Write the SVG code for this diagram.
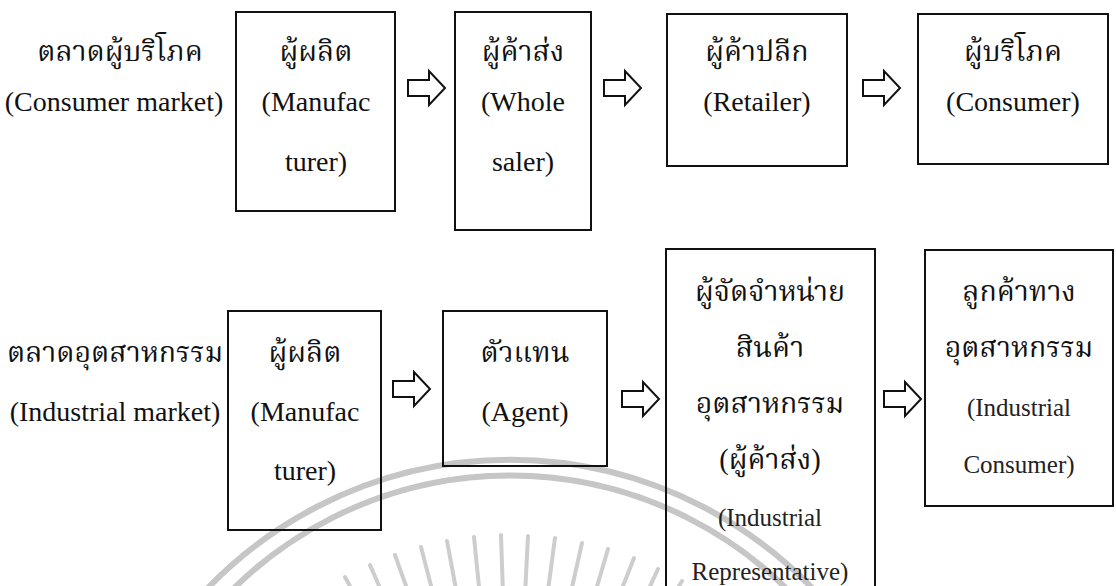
<svg xmlns="http://www.w3.org/2000/svg" width="1116" height="586" viewBox="0 0 1116 586">
<defs>
<style>
.box{fill:none;stroke:#111;stroke-width:2}
.arr{fill:#fff;stroke:#111;stroke-width:2;stroke-linejoin:miter}
.th{font-family:"Liberation Serif","Noto Serif Thai","Noto Sans Thai","DejaVu Serif",serif;font-size:28.5px;fill:#111;text-anchor:middle}
.en{font-family:"Liberation Serif","DejaVu Serif",serif;font-size:28px;fill:#111;text-anchor:middle}
.sm{font-family:"Liberation Serif","DejaVu Serif",serif;font-size:25px;fill:#222;text-anchor:middle}
.wm{fill:none;stroke:#c6c6c6;stroke-width:6}
.ray{stroke:#cdcdcd;stroke-width:4;stroke-linecap:round}
</style>
<path id="ar" d="M0,-8 H21 V-17 L37,0 L21,17 V8 H0 Z"/>
</defs>
<rect width="1116" height="586" fill="#fff"/>
<g id="watermark">
<path class="wm" d="M180,620 A420,420 0 0 1 840,620"/>
<path class="wm" d="M205,620 A394,394 0 0 1 815,620"/>
<g class="ray">
<line x1="345" y1="577" x2="374" y2="630"/>
<line x1="370" y1="565" x2="394" y2="620"/>
<line x1="395" y1="555" x2="415" y2="611"/>
<line x1="421" y1="547" x2="436" y2="605"/>
<line x1="447" y1="541" x2="458" y2="600"/>
<line x1="474" y1="537" x2="480" y2="597"/>
<line x1="501" y1="535" x2="503" y2="595"/>
<line x1="528" y1="536" x2="525" y2="595"/>
<line x1="555" y1="538" x2="547" y2="598"/>
<line x1="582" y1="543" x2="569" y2="601"/>
<line x1="608" y1="549" x2="591" y2="607"/>
<line x1="634" y1="558" x2="612" y2="614"/>
<line x1="658" y1="569" x2="633" y2="623"/>
<line x1="682" y1="581" x2="652" y2="633"/>
</g>
</g>
<g id="label-consumer-market">
<text class="th" x="120" y="61">ตลาดผู้บริโภค</text>
<text class="en" x="114" y="111">(Consumer market)</text>
</g>
<g id="manufacturer-1">
<rect class="box" x="236" y="12" width="159" height="199"/>
<text class="th" x="316" y="61">ผู้ผลิต</text>
<text class="en" x="316" y="111">(Manufac</text>
<text class="en" x="316" y="171">turer)</text>
</g>
<g id="wholesaler">
<rect class="box" x="455" y="12" width="136" height="218"/>
<text class="th" x="523" y="61">ผู้ค้าส่ง</text>
<text class="en" x="523" y="111">(Whole</text>
<text class="en" x="523" y="171">saler)</text>
</g>
<g id="retailer">
<rect class="box" x="667" y="14" width="180" height="152"/>
<text class="th" x="757" y="61">ผู้ค้าปลีก</text>
<text class="en" x="757" y="111">(Retailer)</text>
</g>
<g id="consumer">
<rect class="box" x="918" y="14" width="190" height="150"/>
<text class="th" x="1013" y="61">ผู้บริโภค</text>
<text class="en" x="1013" y="111">(Consumer)</text>
</g>
<g id="label-industrial-market">
<text class="th" x="115" y="362">ตลาดอุตสาหกรรม</text>
<text class="en" x="115" y="421" fill="#333">(Industrial market)</text>
</g>
<g id="manufacturer-2">
<rect class="box" x="228" y="311" width="153" height="219"/>
<text class="th" x="305" y="362">ผู้ผลิต</text>
<text class="en" x="305" y="421">(Manufac</text>
<text class="en" x="305" y="480">turer)</text>
</g>
<g id="agent">
<rect class="box" x="443" y="311" width="164" height="155"/>
<text class="th" x="525" y="362">ตัวแทน</text>
<text class="en" x="525" y="421">(Agent)</text>
</g>
<g id="distributor">
<rect class="box" x="666" y="249" width="209" height="360"/>
<text class="th" x="770" y="301">ผู้จัดจำหน่าย</text>
<text class="th" x="770" y="357">สินค้า</text>
<text class="th" x="770" y="413">อุตสาหกรรม</text>
<text class="th" x="770" y="469">(ผู้ค้าส่ง)</text>
<text class="sm" x="770" y="526">(Industrial</text>
<text class="sm" x="770" y="580">Representative)</text>
</g>
<g id="industrial-consumer">
<rect class="box" x="925" y="250" width="188" height="256"/>
<text class="th" x="1019" y="301">ลูกค้าทาง</text>
<text class="th" x="1019" y="357">อุตสาหกรรม</text>
<text class="sm" x="1019" y="416">(Industrial</text>
<text class="sm" x="1019" y="473">Consumer)</text>
</g>
<g id="connectors">
<use href="#ar" class="arr" x="408" y="88"/>
<use href="#ar" class="arr" x="604" y="88"/>
<use href="#ar" class="arr" x="863" y="88"/>
<use href="#ar" class="arr" x="393" y="389"/>
<use href="#ar" class="arr" x="622" y="399"/>
<use href="#ar" class="arr" x="884" y="399"/>
</g>
</svg>
